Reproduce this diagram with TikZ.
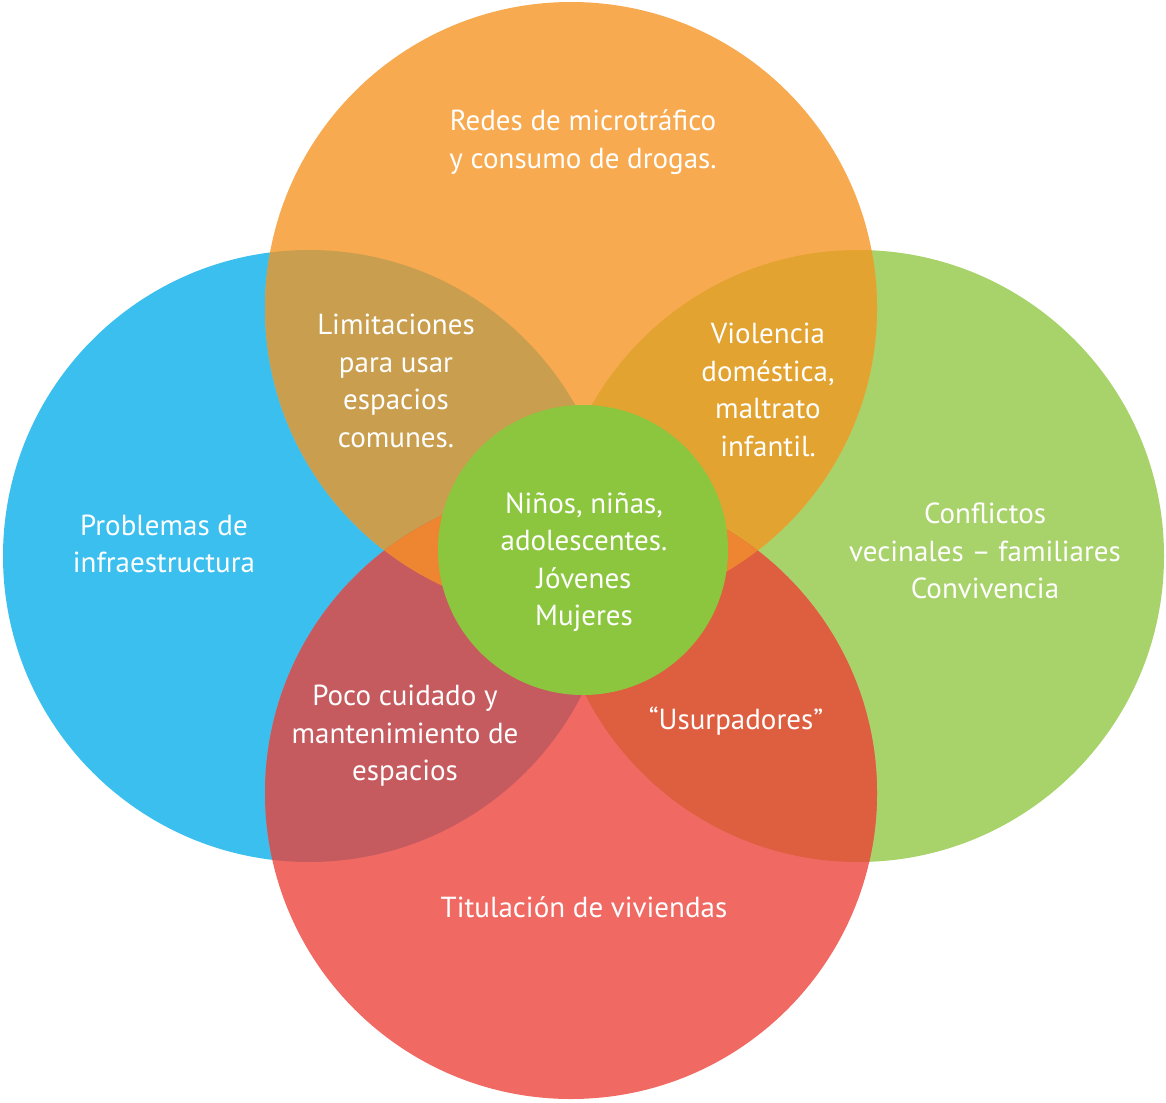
\documentclass[tikz,border=0pt]{standalone}
\usepackage{fontspec}
\setmainfont{PT Sans}
\definecolor{cblue}{HTML}{3BBFEF}
\definecolor{corange}{HTML}{F7AA4F}
\definecolor{cgreen}{HTML}{A8D26A}
\definecolor{cred}{HTML}{F06A63}
\definecolor{cblueorange}{HTML}{C99E4E}
\definecolor{corangegreen}{HTML}{E2A330}
\definecolor{cbluered}{HTML}{C65B5F}
\definecolor{cgreenred}{HTML}{DE5E40}
\definecolor{corangered}{HTML}{EE8530}
\definecolor{ccenter}{HTML}{8CC63F}
\tikzset{txt/.style={text=white,align=center,font=\fontsize{29}{37.5}\selectfont}}

\begin{document}
\begin{tikzpicture}[x=1pt,y=-1pt]
\useasboundingbox (0,0) rectangle (1166,1102);
\def\rad{306}
\coordinate (cb) at (309,556);
\coordinate (cg) at (858,556);
\coordinate (co) at (571,308);
\coordinate (cr) at (571,793);
\fill[cblue] (cb) circle (\rad);
\fill[cgreen] (cg) circle (\rad);
\fill[corange] (co) circle (\rad);
\fill[cred] (cr) circle (\rad);
% overlaps
\begin{scope}\clip (cb) circle (\rad); \fill[cblueorange] (co) circle (\rad); \end{scope}
\begin{scope}\clip (cg) circle (\rad); \fill[corangegreen] (co) circle (\rad); \end{scope}
\begin{scope}\clip (cb) circle (\rad); \fill[cbluered] (cr) circle (\rad); \end{scope}
\begin{scope}\clip (cg) circle (\rad); \fill[cgreenred] (cr) circle (\rad); \end{scope}
\begin{scope}\clip (co) circle (\rad); \fill[corangered] (cr) circle (\rad); \end{scope}
\fill[ccenter] (583,550) circle (145);
% texts
\node[txt] (redes) at (583,142) {Redes de microtráfico\\y consumo de drogas.};
\node[txt] (limit) at (396,381) {Limitaciones\\para usar\\espacios\\comunes.};
\node[txt] (viol) at (768,390) {Violencia\\doméstica,\\maltrato\\infantil.};
\node[txt] (infra) at (164,544) {Problemas de\\infraestructura};
\node[txt] (ninos) at (584,562) {Niños, niñas,\\adolescentes.\\Jóvenes\\Mujeres};
\node[txt] (confl) at (985,551) {Conflictos\\vecinales – familiares\\Convivencia};
\node[txt] (poco) at (405,736) {Poco cuidado y\\mantenimiento de\\espacios};
\node[txt] (usurp) at (736,721) {“Usurpadores”};
\node[txt] (titul) at (584,907) {Titulación de viviendas};
\end{tikzpicture}
\end{document}
